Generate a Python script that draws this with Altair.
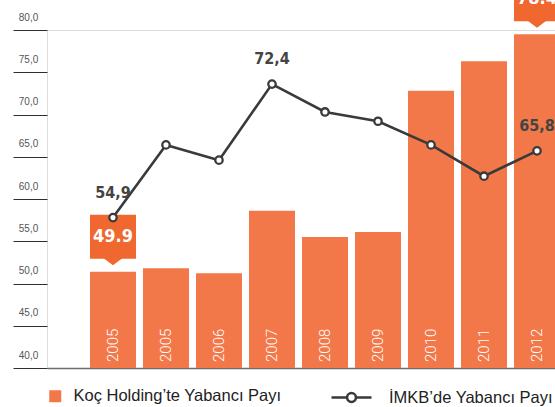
import altair as alt
import pandas as pd

# ---- data ----
years = ["2005", "2005", "2006", "2007", "2008", "2009", "2010", "2011", "2012"]
koc_share = [51.4, 51.8, 51.2, 58.6, 55.5, 56.1, 72.8, 76.3, 79.5]
imkb_share = [57.8, 66.4, 64.6, 73.6, 70.3, 69.2, 66.4, 62.7, 65.7]
koc_labels = ["49.9", "", "", "", "", "", "", "", "78.4"]
imkb_labels = ["54,9", "", "", "72,4", "", "", "", "", "65,8"]
y_ticks = [40, 45, 50, 55, 60, 65, 70, 75, 80]

koc_name = "Koç Holding’te Yabancı Payı"
imkb_name = "İMKB’de Yabancı Payı"

keys = [f"c{i}" for i in range(len(years))]
df = pd.DataFrame({
    "key": keys,
    "year": years,
    "koc": koc_share,
    "imkb": imkb_share,
    "koc_label": koc_labels,
    "imkb_label": imkb_labels,
    "s1": [koc_name] * len(years),
    "s2": [imkb_name] * len(years),
})

BAR = "#F37849"
BOX = "#F0672F"
DARK = "#3A3A3A"
COND = "Liberation Sans Narrow, DejaVu Sans Condensed, sans-serif"

xenc = alt.X("key:N", sort=keys, title=None,
             scale=alt.Scale(paddingInner=0.132, paddingOuter=0.811, range=[0, 556]),
             axis=alt.Axis(labels=False, ticks=False, domain=True,
                           domainColor="#6E6E6E", domainWidth=1.3, grid=False))
yscale = alt.Scale(domain=[40, 80], zero=False, nice=False)
yaxis = alt.Axis(values=y_ticks, grid=False, domain=False, tickSize=34,
                 tickColor="#2E2E2E", tickWidth=1.2,
                 labelExpr="replace(format(datum.value, '.1f'), '.', ',')",
                 labelAlign="center", labelBaseline="middle", labelPadding=-15,
                 labelOffset=-13, labelFont="Liberation Sans", labelFontSize=10,
                 labelColor="#555555")

base = alt.Chart(df)

bars = base.mark_bar().encode(
    x=xenc,
    y=alt.Y("koc:Q", scale=yscale, axis=yaxis, title=None),
    y2=alt.Y2(datum=40),
    fill=alt.Fill("s1:N",
                  scale=alt.Scale(domain=[koc_name], range=[BAR]),
                  legend=alt.Legend(title=None, orient="none", legendX=0, legendY=358,
                                    symbolType="square", symbolSize=144,
                                    symbolStrokeWidth=0, labelOffset=10,
                                    labelFont="Liberation Sans", labelFontSize=16.5,
                                    labelLimit=400,
                                    labelColor="#222222", padding=0)),
)

labelled = base.transform_filter("datum.koc_label != ''")

box = labelled.mark_bar(color=BOX, yOffset=-57, y2Offset=-13).encode(
    x=xenc,
    y=alt.Y("koc:Q", scale=yscale, axis=yaxis, title=None),
    y2="koc:Q",
)

pointer = labelled.mark_point(shape="M-1,-0.15L1,-0.15L0,0.6Z", filled=True,
                              size=484, color=BOX, opacity=1, yOffset=-13).encode(
    x=xenc,
    y=alt.Y("koc:Q", scale=yscale, axis=yaxis, title=None),
)

box_text = labelled.mark_text(color="white", font=COND, fontSize=18,
                              fontWeight="bold", baseline="middle",
                              yOffset=-35).encode(
    x=xenc,
    y=alt.Y("koc:Q", scale=yscale, axis=yaxis, title=None),
    text="koc_label:N",
)

line = base.mark_line(strokeWidth=2.6).encode(
    x=xenc,
    y=alt.Y("imkb:Q", scale=yscale, axis=yaxis, title=None),
    stroke=alt.Stroke("s2:N",
                      scale=alt.Scale(domain=[imkb_name], range=[DARK]),
                      legend=alt.Legend(title=None, orient="none", legendX=283, legendY=346,
                                        symbolType="M-1,0L-0.22,0M0.22,0L1,0M-0.22,0A0.22,0.22,0,1,1,0.22,0A0.22,0.22,0,1,1,-0.22,0",
                                        symbolSize=1600, symbolStrokeWidth=2.5,
                                        symbolFillColor="white", labelOffset=16,
                                        labelFont="Liberation Sans", labelFontSize=16.5,
                                        labelLimit=400,
                                        labelColor="#222222", padding=0)),
)

points = base.mark_point(filled=True, fill="white", stroke=DARK, strokeWidth=2.3,
                         size=55, opacity=1).encode(
    x=xenc,
    y=alt.Y("imkb:Q", scale=yscale, axis=yaxis, title=None),
)

point_text = base.transform_filter("datum.imkb_label != ''").mark_text(
    color="#444444", font=COND, fontSize=16, fontWeight="bold",
    baseline="middle", yOffset=-25).encode(
    x=xenc,
    y=alt.Y("imkb:Q", scale=yscale, axis=yaxis, title=None),
    text="imkb_label:N",
)

year_text = base.mark_text(angle=270, align="left", baseline="middle", dx=6,
                           color="white", font="Roboto", fontWeight=300,
                           fontSize=15).encode(
    x=xenc,
    y=alt.Y(datum=40, scale=yscale, axis=yaxis, title=None),
    text="year:N",
)

chart = alt.layer(bars, box, pointer, box_text, line, points, point_text, year_text).properties(
    width=508, height=338,
    autosize=alt.AutoSizeParams(type="none"),
    padding={"left": 47, "top": 30, "right": 0, "bottom": 39},
).configure_view(stroke=None).configure(background="white")

chart.save("out.html", embed_options={"renderer": "svg", "actions": False})
